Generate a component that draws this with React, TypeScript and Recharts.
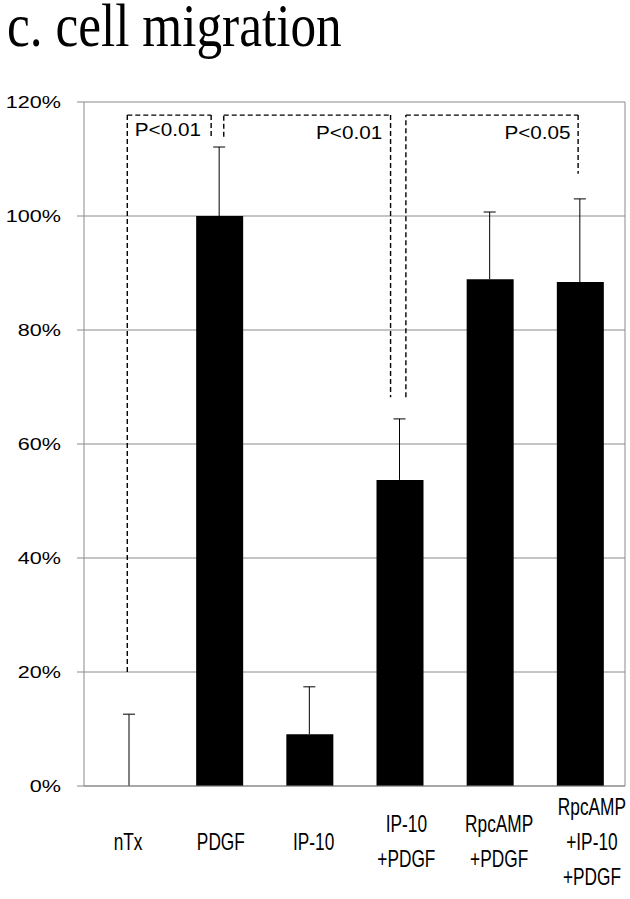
import {
  BarChart,
  Bar,
  XAxis,
  YAxis,
  CartesianGrid,
  ReferenceLine,
  ReferenceDot,
} from "recharts";

const categories = [
  "nTx",
  "PDGF",
  "IP-10",
  "IP-10\n+PDGF",
  "RpcAMP\n+PDGF",
  "RpcAMP\n+IP-10\n+PDGF",
];
const migration = [0, 100, 9.1, 53.7, 88.9, 88.4];
const upperError = [12.6, 12.1, 8.3, 10.7, 11.8, 14.6];
const yTicks = [0, 20, 40, 60, 80, 100, 120];
const boundaryTicks = [0, 1, 2, 3, 4, 5, 6];

// significance brackets: x in category units, y in %
const bracketPaths: number[][][] = [
  [[0.48, 20], [0.48, 117.7], [1.41, 117.7], [1.41, 113.9]],
  [[1.55, 113.9], [1.55, 117.7], [3.4, 117.7], [3.4, 68.2]],
  [[3.57, 68.2], [3.57, 117.7], [5.48, 117.7], [5.48, 107.4]],
];
const pLabels = ["P<0.01", "P<0.01", "P<0.05"];
const pLabelX = [0.93, 2.94, 5.03];
const pLabelY = [115.1, 114.7, 114.7];

const GRAY = "#8a8a8a";
const SANS = "'Liberation Sans', Arial, sans-serif";

// whisker = [mean, mean + SD], drawn as a range bar
const data = categories.map((name, i) => ({
  name,
  value: migration[i],
  whisker: [migration[i], migration[i] + upperError[i]],
}));

function YTick(props: any) {
  const { x, y, payload } = props;
  return (
    <text
      transform={`translate(${x},${y}) scale(1.35,1)`}
      textAnchor="end"
      dy="0.36em"
      fontSize={16}
      fontFamily={SANS}
      fill="#000"
    >
      {`${payload.value}%`}
    </text>
  );
}

function XTick(props: any) {
  const { x, y, payload, index } = props;
  const lines = String(payload.value).split("\n");
  const n = lines.length;
  // Excel spreads the labels slightly wider than the bars
  const cx = x + (index ?? 0) * 2.6 - 1;
  return (
    <g>
      {lines.map((line, i) => {
        const base = y + 55 - (n - 1) * 17.5 + i * 35 + 8.5;
        return (
          <text
            key={i}
            transform={`translate(${cx},${base}) scale(0.72,1)`}
            textAnchor="middle"
            fontSize={24}
            fontFamily={SANS}
            fill="#000"
          >
            {line}
          </text>
        );
      })}
    </g>
  );
}

function EmptyTick() {
  return <g />;
}

function Whisker(props: any) {
  const { x, y, width, height } = props;
  if (x == null || y == null) return null;
  const cx = x + width / 2;
  const top = Math.min(y, y + height);
  const bottom = Math.max(y, y + height);
  return (
    <g stroke="#000" strokeWidth={1}>
      <line x1={cx} y1={bottom} x2={cx} y2={top} />
      <line x1={x} y1={top} x2={x + width} y2={top} />
    </g>
  );
}

function PLabel(props: any) {
  const { viewBox, text } = props;
  const cx = viewBox.x + (viewBox.width || 0) / 2;
  const cy = viewBox.y + (viewBox.height || 0) / 2;
  return (
    <text
      transform={`translate(${cx},${cy}) scale(1.15,1)`}
      textAnchor="middle"
      dy="0.36em"
      fontSize={18}
      fontFamily={SANS}
      fill="#000"
    >
      {text}
    </text>
  );
}

export default function App() {
  return (
    <div
      style={{
        position: "absolute",
        left: 0,
        top: 0,
        width: 630,
        height: 899,
        background: "#fff",
      }}
    >
      <BarChart
        width={630}
        height={899}
        data={data}
        margin={{ top: 102, right: 5, bottom: 0, left: 0 }}
      >
        <CartesianGrid xAxisId="cat" vertical={false} stroke={GRAY} />
        <XAxis
          xAxisId="n"
          type="number"
          dataKey={() => 0}
          domain={[0, 6]}
          ticks={boundaryTicks}
          interval={0}
          height={0}
          axisLine={false}
          tickLine={{ stroke: GRAY }}
          tickSize={4}
          tick={<EmptyTick />}
          allowDataOverflow
        />
        <XAxis
          xAxisId="cat"
          dataKey="name"
          height={113}
          interval={0}
          tickLine={false}
          tickSize={0}
          tickMargin={0}
          axisLine={{ stroke: GRAY }}
          tick={<XTick />}
        />
        <XAxis xAxisId="whisk" dataKey="name" hide />
        <YAxis
          type="number"
          domain={[0, 120]}
          ticks={yTicks}
          interval={0}
          width={84}
          tickSize={7}
          tickMargin={16}
          axisLine={{ stroke: GRAY }}
          tickLine={{ stroke: GRAY }}
          tick={<YTick />}
        />
        <ReferenceLine xAxisId="n" x={6} stroke={GRAY} ifOverflow="visible" />
        <Bar
          xAxisId="whisk"
          dataKey="whisker"
          barSize={12}
          shape={<Whisker />}
          isAnimationActive={false}
        />
        <Bar
          xAxisId="cat"
          dataKey="value"
          fill="#000"
          barSize={47}
          isAnimationActive={false}
        />
        {bracketPaths.map((path, b) =>
          path.slice(1).map((pt, i) => (
            <ReferenceLine
              key={`br-${b}-${i}`}
              xAxisId="n"
              ifOverflow="visible"
              segment={[
                { x: path[i][0], y: path[i][1] },
                { x: pt[0], y: pt[1] },
              ]}
              stroke="#000"
              strokeWidth={1.4}
              strokeDasharray="5 3"
            />
          ))
        )}
        {pLabels.map((text, i) => (
          <ReferenceDot
            key={`p-${i}`}
            xAxisId="n"
            x={pLabelX[i]}
            y={pLabelY[i]}
            r={0}
            fill="none"
            stroke="none"
            ifOverflow="visible"
            label={<PLabel text={text} />}
          />
        ))}
      </BarChart>
      <svg
        width={630}
        height={70}
        style={{ position: "absolute", left: 0, top: 0, pointerEvents: "none" }}
      >
        <text
          transform="translate(7,46) scale(1,1.2)"
          fontSize={51.3}
          fontFamily="'Liberation Serif', 'Times New Roman', serif"
          fill="#000"
        >
          c. cell migration
        </text>
      </svg>
    </div>
  );
}
